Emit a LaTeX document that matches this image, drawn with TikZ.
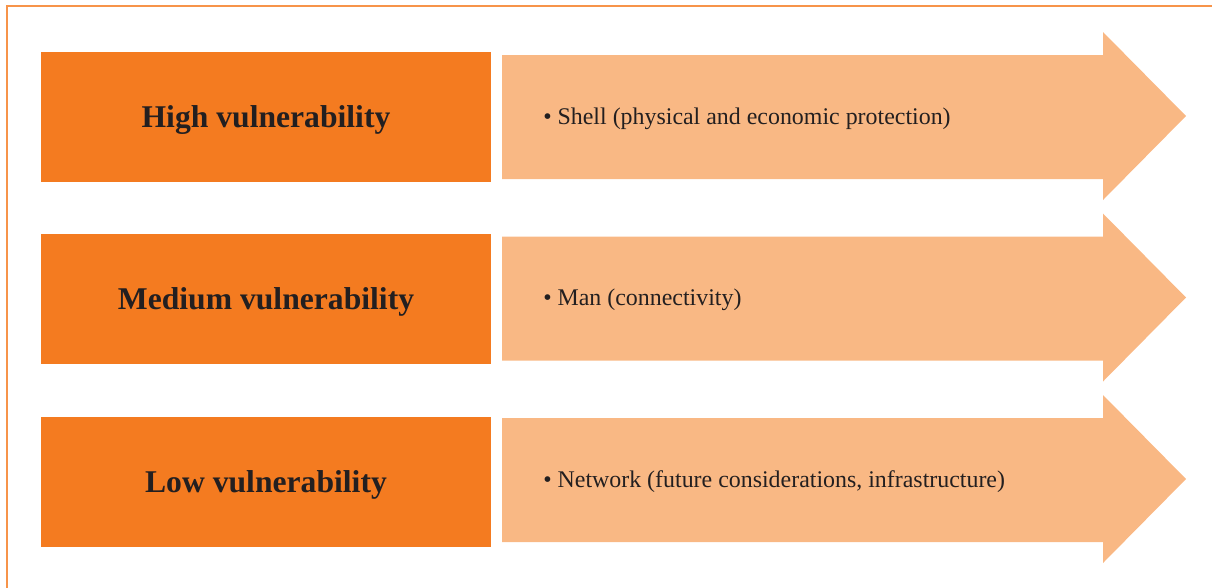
\documentclass[tikz,border=0pt]{standalone}
\usepackage{fontspec}
\setmainfont{Liberation Serif}
\usepackage{xcolor}

\definecolor{darkorange}{HTML}{F47B20}
\definecolor{lightorange}{HTML}{F9B884}
\definecolor{frameorange}{HTML}{F7944A}
\definecolor{textgray}{HTML}{231F20}

\tikzset{
  levelbox/.style={fill=darkorange, draw=none},
  levelarrow/.style={fill=lightorange, draw=none},
  leveltext/.style={text=textgray, anchor=base, inner sep=0pt, font=\fontsize{22.5}{26}\selectfont\bfseries},
  itemtext/.style={text=textgray, anchor=base west, inner sep=0pt, font=\fontsize{17}{20}\selectfont}
}

\begin{document}
\begin{tikzpicture}[x=0.025cm, y=-0.025cm]
\useasboundingbox (0,0) rectangle (1212,587);
\draw [frameorange, line width=1pt] (1230,6) -- (7,6) -- (7,600); %outer frame, open to the right and below

%high
\fill [levelbox] (41,52) rectangle (491,182);
\node [leveltext] (high) at (266,127) {High vulnerability};
\fill [levelarrow] (502,55) -- (1103,55) -- (1103,32) -- (1186,116) -- (1103,200) -- (1103,179) -- (502,179) -- cycle;
\node [itemtext] (shell) at (543,124) {\textbullet\ Shell (physical and economic protection)};

%medium
\fill [levelbox] (41,234) rectangle (491,364);
\node [leveltext] (medium) at (266,309.5) {Medium vulnerability};
\fill [levelarrow] (502,236.5) -- (1103,236.5) -- (1103,213.5) -- (1186,297.5) -- (1103,381.5) -- (1103,360.5) -- (502,360.5) -- cycle;
\node [itemtext] (man) at (543,305.5) {\textbullet\ Man (connectivity)};

%low
\fill [levelbox] (41,417) rectangle (491,547);
\node [leveltext] (low) at (266,492) {Low vulnerability};
\fill [levelarrow] (502,418) -- (1103,418) -- (1103,395) -- (1186,479) -- (1103,563) -- (1103,542) -- (502,542) -- cycle;
\node [itemtext] (network) at (543,487) {\textbullet\ Network (future considerations, infrastructure)};
\end{tikzpicture}
\end{document}
